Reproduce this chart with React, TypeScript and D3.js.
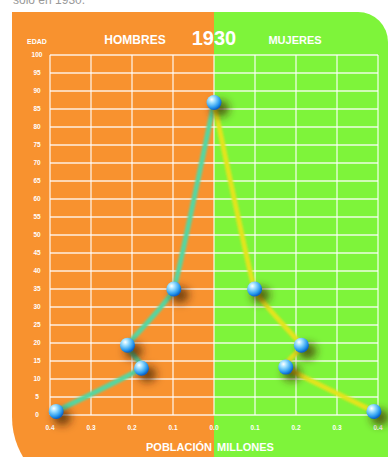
import React from "react";
import * as d3 from "d3";

const W = 388;
const H = 457;

const xTickLabels = ["0.4", "0.3", "0.2", "0.1", "0.0", "0.1", "0.2", "0.3", "0.4"];
const xTickValues = [-0.4, -0.3, -0.2, -0.1, 0, 0.1, 0.2, 0.3, 0.4];
const yTickValues = [0, 5, 10, 15, 20, 25, 30, 35, 40, 45, 50, 55, 60, 65, 70, 75, 80, 85, 90, 95, 100];

const menPop = [0.385, 0.177, 0.211, 0.098, 0];
const menAge = [1, 13, 19.4, 35, 86.8];
const womenPop = [0, 0.099, 0.213, 0.175, 0.39];
const womenAge = [86.8, 35, 19.4, 13.3, 1];

const ORANGE = "#f8922f";
const GREEN = "#7ef43a";

export default function App() {
  const x = d3.scaleLinear().domain([-0.4, 0.4]).range([50, 378]);
  const y = d3.scaleLinear().domain([0, 100]).range([415, 55]);
  const cx = x(0);

  const line = d3
    .line<[number, number]>()
    .x((d) => d[0])
    .y((d) => d[1])
    .curve(d3.curveCardinal.tension(0.7));

  const menPts: [number, number][] = menPop.map((p, i) => [x(-p), y(menAge[i])]);
  const womenPts: [number, number][] = womenPop.map((p, i) => [x(p), y(womenAge[i])]);
  const allPts = [...menPts, ...womenPts.slice(1)];

  const font = "'Liberation Sans', Arial, sans-serif";

  const top = 12;
  const left = 12;
  const rBL = 78;
  const rTR = 30;
  const bottom = 495;

  const orangePath = `M${left},${top} L${cx},${top} L${cx},${bottom} L${left + rBL},${bottom} A${rBL},${rBL} 0 0 1 ${left},${bottom - rBL} Z`;
  const greenPath = `M${cx},${top} L${W - rTR},${top} A${rTR},${rTR} 0 0 1 ${W},${top + rTR} L${W},${bottom} L${cx},${bottom} Z`;

  return (
    <svg
      width={W}
      height={H}
      style={{ position: "absolute", left: 0, top: 0, background: "#fff" }}
      viewBox={`0 0 ${W} ${H}`}
    >
      <defs>
        <radialGradient id="ball" cx="35%" cy="30%" r="70%">
          <stop offset="0%" stopColor="#ffffff" />
          <stop offset="30%" stopColor="#9ee0ff" />
          <stop offset="75%" stopColor="#2a9cf0" />
          <stop offset="100%" stopColor="#0a62c8" />
        </radialGradient>
        <filter id="shadow" x="-100%" y="-100%" width="300%" height="300%">
          <feGaussianBlur stdDeviation="4" />
        </filter>
        <filter id="lineblur" x="-10%" y="-10%" width="120%" height="120%">
          <feGaussianBlur stdDeviation="0.8" />
        </filter>
      </defs>

      <text x={13} y={4} fontFamily={font} fontSize={12} fill="#999">
        sólo en 1930.
      </text>

      <path d={orangePath} fill={ORANGE} />
      <path d={greenPath} fill={GREEN} />

      {/* grid */}
      {yTickValues.map((v) => (
        <line
          key={"h" + v}
          x1={x(-0.4)}
          x2={x(0.4)}
          y1={y(v)}
          y2={y(v)}
          stroke="#fff"
          strokeOpacity={0.85}
          strokeWidth={1.3}
        />
      ))}
      {xTickValues.map((v, i) => (
        <line
          key={"v" + i}
          x1={x(v)}
          x2={x(v)}
          y1={y(0)}
          y2={y(100)}
          stroke="#fff"
          strokeOpacity={0.85}
          strokeWidth={1.3}
        />
      ))}

      {/* y labels */}
      {yTickValues.map((v) => (
        <text
          key={"yl" + v}
          x={37}
          y={y(v)}
          dy="0.35em"
          textAnchor="middle"
          fontFamily={font}
          fontWeight="bold"
          fontSize={6.5}
          fill="#fff"
        >
          {v}
        </text>
      ))}
      <text x={37} y={44} textAnchor="middle" fontFamily={font} fontWeight="bold" fontSize={7} fill="#fff">
        EDAD
      </text>

      {/* x labels */}
      {xTickValues.map((v, i) => (
        <text
          key={"xl" + i}
          x={x(v)}
          y={428}
          dy="0.35em"
          textAnchor="middle"
          fontFamily={font}
          fontWeight="bold"
          fontSize={6.5}
          fill="#fff"
        >
          {xTickLabels[i]}
        </text>
      ))}

      {/* titles */}
      <text x={135} y={44} textAnchor="middle" fontFamily={font} fontWeight="bold" fontSize={12} fill="#fff">
        HOMBRES
      </text>
      <text x={cx} y={45} textAnchor="middle" fontFamily={font} fontWeight="bold" fontSize={20} fill="#fff">
        1930
      </text>
      <text x={295} y={44} textAnchor="middle" fontFamily={font} fontWeight="bold" fontSize={11} fill="#fff">
        MUJERES
      </text>
      <text x={cx - 2} y={451} textAnchor="end" fontFamily={font} fontWeight="bold" fontSize={11} fill="#fff">
        POBLACIÓN
      </text>
      <text x={cx + 3} y={451} textAnchor="start" fontFamily={font} fontWeight="bold" fontSize={11} fill="#fff">
        MILLONES
      </text>

      {/* lines */}
      <path
        d={line(menPts) || ""}
        fill="none"
        stroke="#55d6a0"
        strokeWidth={5}
        strokeLinecap="round"
        filter="url(#lineblur)"
      />
      <path
        d={line(womenPts) || ""}
        fill="none"
        stroke="#e3e41e"
        strokeWidth={5}
        strokeLinecap="round"
        filter="url(#lineblur)"
      />

      {/* shadows */}
      {allPts.map((p, i) => (
        <ellipse
          key={"s" + i}
          cx={p[0] + 6}
          cy={p[1] + 6}
          rx={9}
          ry={8}
          fill="#3a2000"
          fillOpacity={0.7}
          filter="url(#shadow)"
        />
      ))}
      {/* balls */}
      {allPts.map((p, i) => (
        <circle key={"b" + i} cx={p[0]} cy={p[1]} r={7.5} fill="url(#ball)" />
      ))}
    </svg>
  );
}
